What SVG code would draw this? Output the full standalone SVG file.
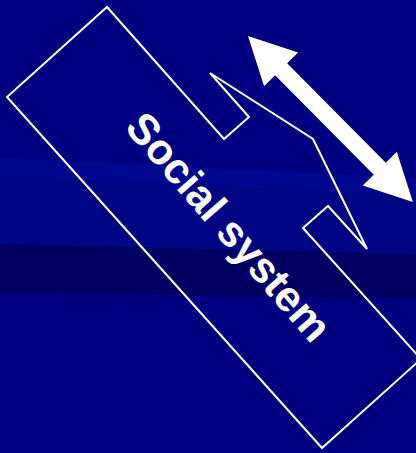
<svg xmlns="http://www.w3.org/2000/svg" width="416" height="453" viewBox="0 0 416 453">
  <style>
    .outline { fill: none; stroke: #ffffff; stroke-width: 2; stroke-linejoin: miter; }
    .arrow { fill: #ffffff; stroke: none; }
    .label { font-family: "Liberation Sans", Arial, sans-serif; font-weight: bold; font-size: 43px; fill: #ffffff; }
  </style>
  <g id="background">
    <rect x="0" y="0" width="416" height="453" fill="#000080"/>
    <polygon points="0,158 416,178 416,196 0,176" fill="#00078f"/>
    <polygon points="0,176 416,196 416,254 0,244" fill="#000584"/>
    <polygon points="0,244 416,254 416,298 0,293" fill="#000063"/>
  </g>
  <g id="social-system">
    <polygon class="outline" points="107,7 224,139 249,117 210,73 313,139 367,249 328,206 303,228 421,359 322,448 7,97"/>
    <text class="label" transform="translate(227.5,228) rotate(49)" x="0" y="13" text-anchor="middle">Social system</text>
  </g>
  <g id="connectors">
    <polygon class="arrow" transform="translate(248,36) rotate(45.2)" points="0,0 47,-24 47,-8.5 187,-8.5 187,-24 234,0 187,24 187,8.5 47,8.5 47,24"/>
  </g>
</svg>
